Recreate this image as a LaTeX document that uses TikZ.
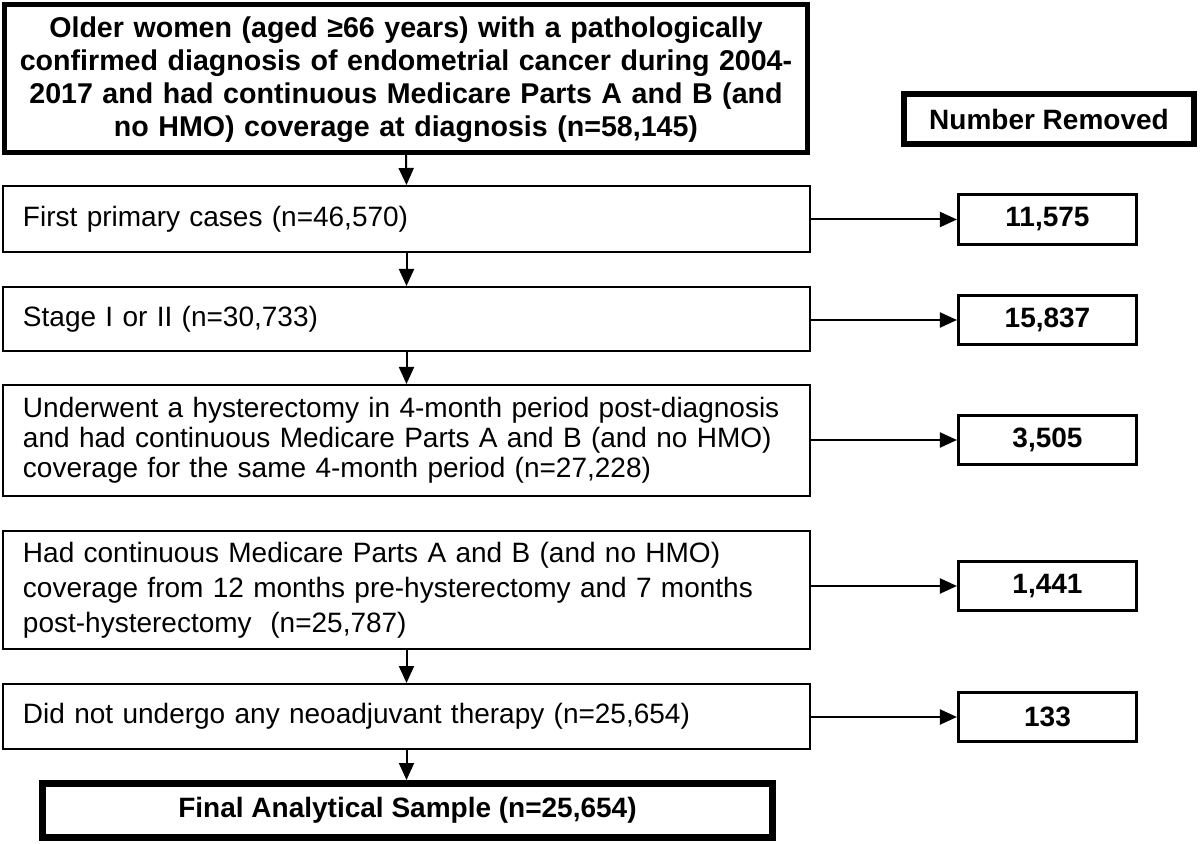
\documentclass[tikz,border=0pt]{standalone}
\usepackage{fontspec}
\setmainfont{Liberation Sans}
\usetikzlibrary{arrows.meta}
\begin{document}
\begin{tikzpicture}[x=0.5pt,y=-0.5pt,
  every node/.style={inner sep=0pt},
  topbox/.style={draw, line width=2.5pt, text width=401.5pt, minimum height=74pt, align=center, font=\bfseries\fontsize{14.3}{16.5}\selectfont},
  lbox/.style={draw, line width=1pt, text width=383.5pt, inner xsep=10pt, align=left, font=\fontsize{14}{17}\selectfont},
  rbox/.style={draw, line width=1.3pt, minimum width=89.25pt, minimum height=24.75pt, font=\bfseries\fontsize{14}{17}\selectfont},
  headbox/.style={draw, line width=3pt, minimum width=145pt, minimum height=25pt, font=\bfseries\fontsize{14}{17}\selectfont},
  finalbox/.style={draw, line width=3.5pt, minimum width=365pt, minimum height=27pt, font=\bfseries\fontsize{14}{17}\selectfont},
  arr/.style={line width=1pt, -{Triangle[length=8.5pt,width=7.5pt]}}
]
\useasboundingbox (0,0) rectangle (1200,844);

\node[topbox] (top) at (406,78.5) {\rule{0pt}{12pt}Older women (aged ≥66 years) with a pathologically\\ confirmed diagnosis of endometrial cancer during 2004-\\ 2017 and had continuous Medicare Parts A and B (and\\ no HMO) coverage at diagnosis (n=58,145)};

\node[headbox] (head) at (1049,119) {Number Removed};

\node[lbox, minimum height=33pt] (b2) at (406.5,219) {First primary cases (n=46,570)};
\node[lbox, minimum height=32pt] (b3) at (406.5,319) {Stage I or II (n=30,733)};
\node[lbox, minimum height=55.5pt, font=\fontsize{14}{15}\selectfont] (b4) at (406.5,440.5) {Underwent a hysterectomy in 4-month period post-diagnosis\\ and had continuous Medicare Parts A and B (and no HMO)\\ coverage for the same 4-month period (n=27,228)};
\node[lbox, minimum height=59pt, font=\fontsize{14}{17.5}\selectfont] (b5) at (406.5,590) {Had continuous Medicare Parts A and B (and no HMO)\\ coverage from 12 months pre-hysterectomy and 7 months\\ post-hysterectomy\ \ (n=25,787)};
\node[lbox, minimum height=32.5pt] (b6) at (406.5,716.5) {Did not undergo any neoadjuvant therapy (n=25,654)};

\node[finalbox] (fin) at (407.5,810.5) {Final Analytical Sample (n=25,654)};

\node[rbox] (r1) at (1047.5,219.5) {11,575};
\node[rbox] (r2) at (1047.5,320) {15,837};
\node[rbox] (r3) at (1047.5,440) {3,505};
\node[rbox] (r4) at (1047.5,586) {1,441};
\node[rbox] (r5) at (1047.5,717) {133};

\draw[arr] (top.south) -- (b2.north);
\draw[arr] (b2.south) -- (b3.north);
\draw[arr] (b3.south) -- (b4.north);
\draw[arr] (b5.south) -- (b6.north);
\draw[arr] (b6.south) -- (b6.south |- fin.north);

\draw[arr] (b2.east |- r1.west) -- (r1.west);
\draw[arr] (b3.east |- r2.west) -- (r2.west);
\draw[arr] (b4.east |- r3.west) -- (r3.west);
\draw[arr] (b5.east |- r4.west) -- (r4.west);
\draw[arr] (b6.east |- r5.west) -- (r5.west);
\end{tikzpicture}
\end{document}
